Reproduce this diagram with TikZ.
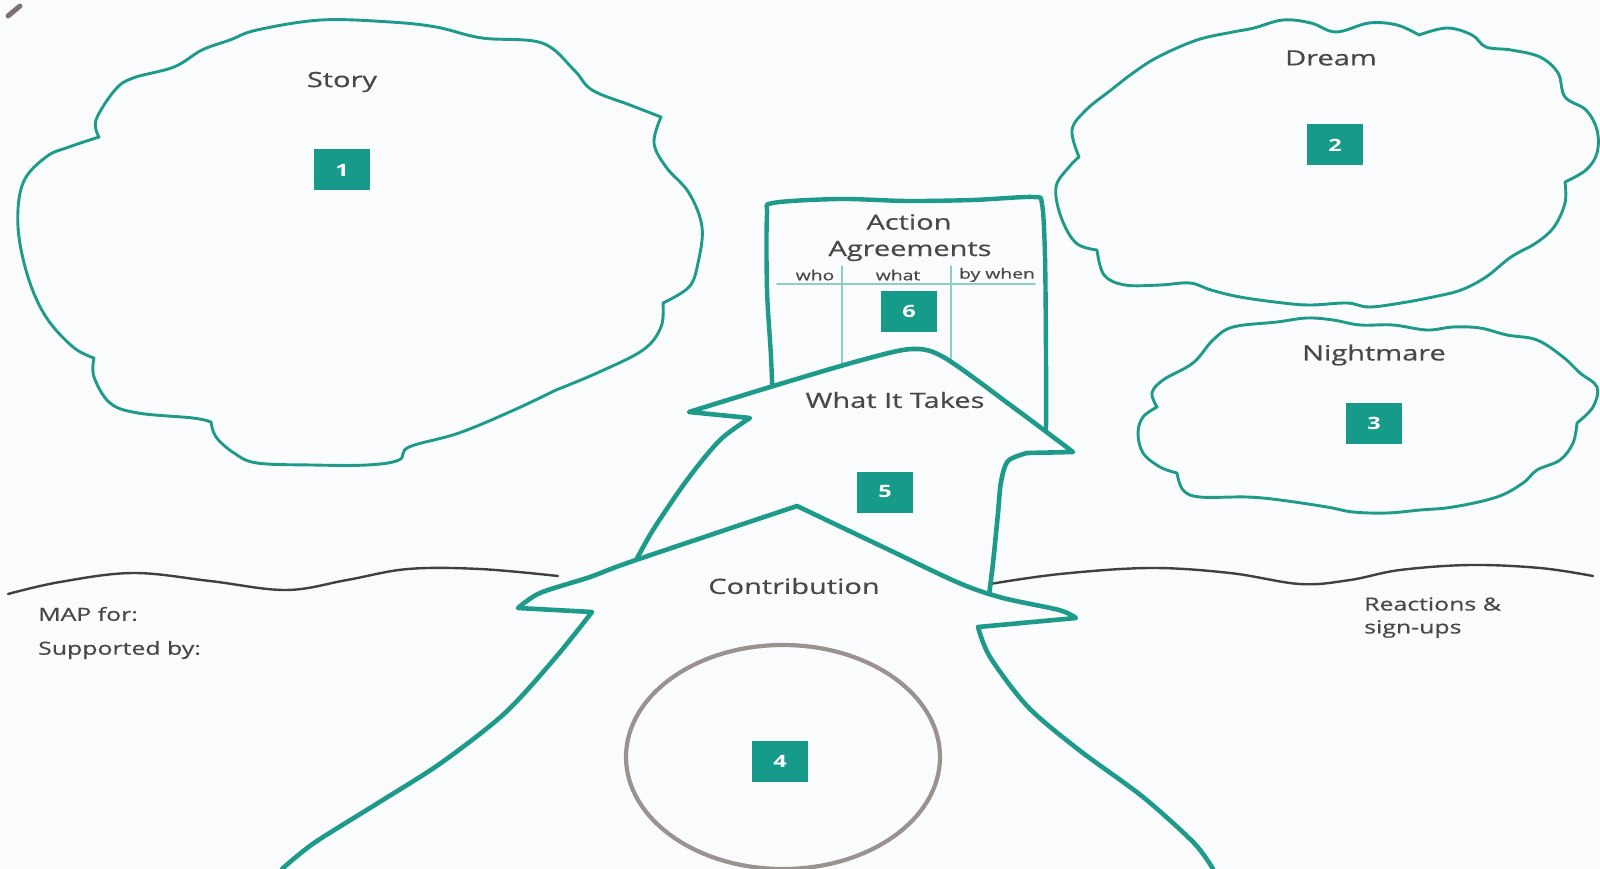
\documentclass[tikz,border=0pt]{standalone}
\usepackage{fontspec}
\setmainfont{Open Sans}
\newfontfamily\lblfont[FakeBold=0.5]{Open Sans}
\usepackage{graphicx}
\definecolor{teal1}{RGB}{30,154,138}
\definecolor{boxc}{RGB}{22,155,138}
\definecolor{txt}{RGB}{72,72,72}
\definecolor{hor}{RGB}{64,64,64}
\definecolor{ring}{RGB}{155,145,142}
\definecolor{bgc}{RGB}{250,251,253}
\definecolor{tline}{RGB}{140,205,196}
\definecolor{blob}{RGB}{125,115,114}
\newcommand{\sx}[1]{\scalebox{1.38}[1]{#1}}
\begin{document}
\begin{tikzpicture}[x=1pt,y=-1pt,line join=round,line cap=round,
  cloudline/.style={draw=teal1,line width=2.9pt},
  bigshape/.style={draw=teal1,line width=4.6pt,fill=bgc},
  horizon/.style={draw=hor,line width=2.4pt},
  tableline/.style={draw=tline,line width=1.6pt},
  lbl/.style={text=txt,font=\lblfont\fontsize{21}{25}\selectfont,inner sep=0pt},
  hdr/.style={text=txt,font=\lblfont\fontsize{14}{17}\selectfont,inner sep=0pt},
  side/.style={text=txt,font=\lblfont\fontsize{18}{22}\selectfont,inner sep=0pt,anchor=west},
  numbox/.style={fill=boxc,minimum width=56pt,minimum height=41pt,inner sep=0pt,text=white,font=\fontsize{17}{20}\selectfont\bfseries}]
\useasboundingbox (0,0) rectangle (1600,869);
\fill[bgc] (0,0) rectangle (1600,869);
\clip (0,0) rectangle (1600,869);

% top-left artifact
\draw[blob,line width=5pt] (8,16) -- (20,6);

% Story cloud
\draw[cloudline] plot[smooth,tension=0.6] coordinates {(99,137) (96,120) (115,90) (133,78) (174,67) (202,50) (230,40) (257,30) (321,20) (390,22) (436,27) (482,38) (542,43) (574,70) (592,90) (630,105) (661,117)}
 -- plot[smooth,tension=0.6] coordinates {(661,117) (654,143) (666,167) (689,193) (702,227) (698,263) (689,287) (663,303)}
 -- plot[smooth,tension=0.6] coordinates {(663,303) (661,327) (643,350) (597,373) (556,390)}
 -- plot[smooth,tension=0.6] coordinates {(556,390) (514,410) (459,433) (409,447) (399,460) (367,465) (312,465) (257,463) (234,453) (216,437) (211,422)}
 -- plot[smooth,tension=0.6] coordinates {(211,422) (193,418) (138,413) (110,403) (94,377) (94,358)}
 -- plot[smooth,tension=0.6] coordinates {(94,358) (73,347) (46,317) (28,277) (18,227) (23,183) (46,157) (69,147) (99,137)} -- cycle;

% Dream cloud
\draw[cloudline] plot[smooth,tension=0.6] coordinates {(1079,157) (1072,130) (1086,110) (1111,90) (1133,73) (1158,57) (1197,40) (1233,32) (1254,28) (1283,20) (1311,23) (1336,32) (1369,23) (1397,25) (1419,35)}
 -- plot[smooth,tension=0.6] coordinates {(1419,35) (1447,28) (1472,35) (1486,47) (1511,50) (1540,57) (1558,73) (1565,97) (1586,110) (1597,130) (1597,153) (1586,170) (1565,182)}
 -- plot[smooth,tension=0.6] coordinates {(1565,182) (1565,203) (1554,227) (1536,243) (1511,257) (1486,277) (1461,290) (1433,297) (1401,303) (1369,307) (1347,303) (1311,305) (1283,303) (1240,297) (1211,290) (1190,283) (1160,285) (1125,285) (1104,275) (1097,250)}
 -- plot[smooth,tension=0.6] coordinates {(1097,250) (1076,243) (1061,217) (1056,187) (1069,167) (1079,157)} -- cycle;

% Nightmare cloud
\draw[cloudline] plot[smooth,tension=0.6] coordinates {(1157,407) (1152,393) (1163,380) (1193,363) (1213,340) (1233,327) (1277,322) (1307,318) (1333,320) (1360,325) (1393,325) (1427,330) (1453,327) (1480,328) (1507,335) (1537,340) (1563,357) (1580,373) (1597,387) (1593,407) (1577,423)}
 -- plot[smooth,tension=0.6] coordinates {(1577,423) (1573,443) (1560,460) (1537,470) (1523,483) (1497,497) (1453,507) (1420,510) (1387,513) (1353,512) (1327,507) (1280,500) (1247,497) (1200,497) (1183,490) (1177,473)}
 -- plot[smooth,tension=0.6] coordinates {(1177,473) (1160,467) (1143,453) (1138,433) (1143,417) (1157,407)} -- cycle;

% horizon lines
\draw[horizon] plot[smooth,tension=0.6] coordinates {(8,594) (60,582) (133,573) (210,581) (286,590) (347,580) (408,569) (480,569) (558,576)};
\draw[horizon] plot[smooth,tension=0.6] coordinates {(990,584) (1060,574) (1150,568) (1230,573) (1300,584) (1350,580) (1400,570) (1470,565) (1540,568) (1593,576)};

% Action agreements board
\draw[draw=teal1,line width=4.4pt] plot[smooth,tension=0.5] coordinates {(774,430) (771,357) (767,290) (767,215) (773,203) (840,199) (907,201) (973,200) (1033,197) (1042,204) (1045,257) (1046,357) (1046,445)};
\draw[tableline] (777,284) -- (1035,284);
\draw[tableline] (842,266) -- (842,385);
\draw[tableline] (951,266) -- (951,385);

% What It Takes arrow
\draw[bigshape] plot[smooth,tension=0.5] coordinates {(633,566) (653,530) (687,480) (720,440) (750,418)}
 -- (689,412)
 -- plot[smooth,tension=0.5] coordinates {(689,412) (780,384) (862,360) (912,349) (945,358) (1017,410) (1073,452)}
 -- (1027,453)
 -- plot[smooth,tension=0.5] coordinates {(1027,453) (1008,461) (1001,482) (998,513) (993,563) (988,603)}
 -- (800,612) -- cycle;

% Contribution arrow
\draw[bigshape] plot[smooth,tension=0.5] coordinates {(282,869) (314,843) (378,803) (441,763) (505,713) (556,657) (592,612)}
 -- (518,608)
 -- plot[smooth,tension=0.5] coordinates {(518,608) (540,593) (590,577) (633,561) (797,506)}
 -- plot[smooth,tension=0.5] coordinates {(797,506) (883,547) (959,583) (1003,598) (1059,610) (1076,618)}
 -- (978,627)
 -- plot[smooth,tension=0.5] coordinates {(978,627) (990,657) (1028,707) (1079,750) (1143,797) (1194,843) (1213,869)}
 -- (1213,890) -- (282,890) -- cycle;

% circle 4
\draw[draw=ring,line width=4.2pt] (783,757) ellipse [x radius=157, y radius=112];

% texts
\node[lbl] (story) at (342,82) {\sx{Story}};
\node[lbl] (dream) at (1331,58) {\sx{Dream}};
\node[lbl] (night) at (1374,355) {\sx{Nightmare}};
\node[lbl] (action) at (909,222) {\sx{Action}};
\node[lbl] (agree) at (910,251) {\sx{Agreements}};
\node[hdr] (who) at (815,275) {\sx{who}};
\node[hdr] (what) at (898,275) {\sx{what}};
\node[hdr] (bywhen) at (997,275) {\sx{by when}};
\node[lbl] (witt) at (895,400) {\sx{What It Takes}};
\node[lbl] (contrib) at (794,586) {\sx{Contribution}};
\node[side] (mapfor) at (38,614) {\sx{MAP for:}};
\node[side] (suppby) at (38,650) {\sx{Supported by:}};
\node[side] (react) at (1364,604) {\sx{Reactions \&}};
\node[side] (signup) at (1364,629) {\sx{sign-ups}};

% number boxes
\node[numbox] (b1) at (342,170) {\sx{1}};
\node[numbox] (b2) at (1335,145) {\sx{2}};
\node[numbox] (b3) at (1374,423) {\sx{3}};
\node[numbox] (b4) at (780,761) {\sx{4}};
\node[numbox] (b5) at (885,492) {\sx{5}};
\node[numbox] (b6) at (909,311) {\sx{6}};
\end{tikzpicture}
\end{document}
